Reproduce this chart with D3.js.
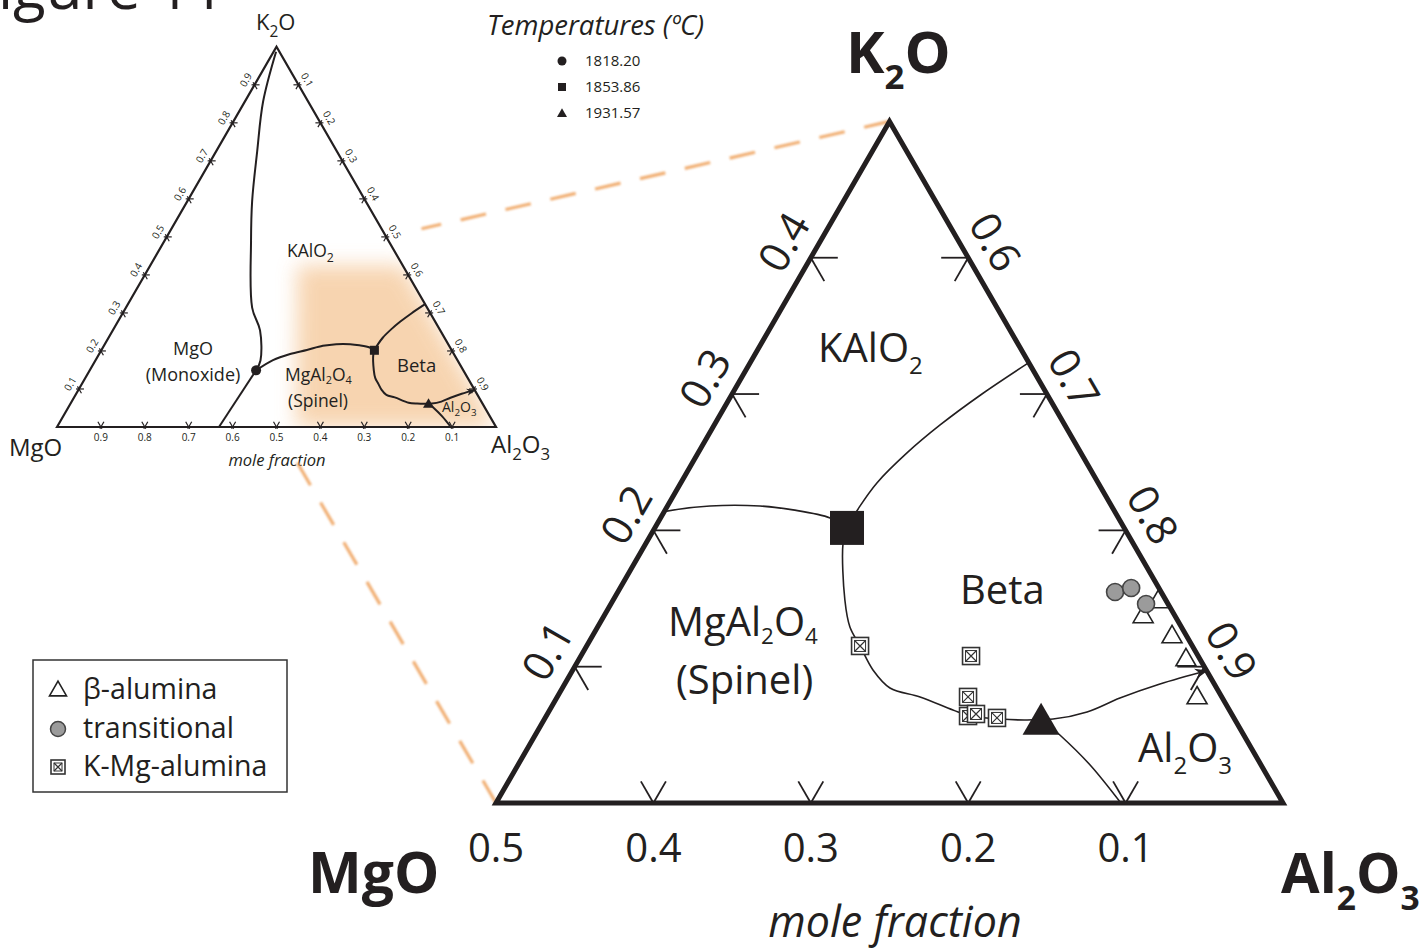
<!DOCTYPE html>
<html><head><meta charset="utf-8">
<script src="https://cdn.jsdelivr.net/npm/d3@7"></script>
<style>
body{margin:0;background:#fff;}
svg{display:block;}
text{font-family:"Open Sans","Noto Sans",sans-serif;fill:#231f20;}
</style>
</head><body>
<svg id="c" width="1421" height="949"></svg>
<script>
// ---------- DATA (compositions as [K2O, MgO, Al2O3] mole fractions) ----------
const bottomTickValues = [0.4, 0.3, 0.2, 0.1];          // MgO fraction, big triangle
const bottomTickLabels = ["0.5", "0.4", "0.3", "0.2", "0.1"];
const leftTickValues   = [0.1, 0.2, 0.3, 0.4];           // K2O fraction, big triangle
const rightTickValues  = [0.6, 0.7, 0.8, 0.9];           // Al2O3 fraction, big triangle
const smallTickValues  = [0.1,0.2,0.3,0.4,0.5,0.6,0.7,0.8,0.9];

// liquidus boundary curves
const bKAlO2_MgO = [[0.987,0.0075,0.0055],[0.856,0.1025,0.0415],[0.725,0.1815,0.0935],[0.594,0.2585,0.1475],
  [0.490,0.313,0.197],[0.314,0.3985,0.2875],[0.254,0.4105,0.3355],[0.175,0.449,0.376],[0.149,0.472,0.379]];
const bMgO_Spinel = [[0.149,0.472,0.379],[0,0.631,0.369]];
const bKAlO2_Spinel = [[0.149,0.472,0.379],[0.176,0.420,0.404],[0.192,0.373,0.435],[0.2026,0.3295,0.4679],
  [0.2135,0.2877,0.4988],[0.2179,0.255,0.527],[0.2179,0.2233,0.5588],[0.215,0.2038,0.5812],[0.2091,0.1832,0.6077],[0.2018,0.1761,0.6221]];
const bKAlO2_Beta = [[0.2018,0.1761,0.6221],[0.2172,0.1605,0.6223],[0.2348,0.1406,0.6246],[0.2568,0.1105,0.6327],
  [0.2773,0.0792,0.6435],[0.2993,0.0425,0.6582],[0.323,0,0.677]];
const bSpinel_Beta = [[0.2018,0.1761,0.6221],[0.1908,0.1841,0.6251],[0.1489,0.2039,0.6472],[0.1291,0.2106,0.6603],
  [0.1152,0.2111,0.6737],[0.0976,0.2117,0.6907],[0.0844,0.2075,0.7081],[0.0778,0.1917,0.7305],[0.0682,0.1756,0.7562],
  [0.0638,0.167,0.7692],[0.0616,0.149,0.7894],[0.0609,0.1321,0.807],[0.0616,0.1229,0.8155]];
const bBeta_Al2O3 = [[0.0616,0.1229,0.8155],[0.0616,0.1153,0.8231],[0.0668,0.0911,0.8421],[0.077,0.0651,0.8579],
  [0.0873,0.0345,0.8782],[0.097,0,0.903]];
const bSpinel_Al2O3 = [[0.0616,0.1229,0.8155],[0.0499,0.1168,0.8333],[0.0279,0.1086,0.8635],[0,0.103,0.897]];

// invariant points and their temperatures (°C)
const tempLabels = ["1818.20", "1853.86", "1931.57"];
const tempPoints = [[0.149,0.472,0.379],[0.2018,0.1761,0.6221],[0.0616,0.1229,0.8155]];

// measured compositions
const betaAlumina = [[0.1475,0.0056,0.8469],[0.1365,0.0206,0.8429],[0.1218,0.0096,0.8686],[0.1049,0.0092,0.8859],[0.077,0.0161,0.9069]];
const transitional = [[0.1548,0.0293,0.8159],[0.1577,0.0176,0.8247],[0.146,0.014,0.840]];
const kMgAlumina = [[0.1152,0.2111,0.6737],[0.1078,0.1443,0.7479],[0.0778,0.1612,0.761],[0.0638,0.1682,0.768],[0.0653,0.1624,0.7723],[0.0624,0.1505,0.7871]];

const legendLabels = ["β-alumina", "transitional", "K-Mg-alumina"];

// highlighted (enlarged) composition window and its shaded area in the inset
const zoomCorners = [[0.5,0,0.5],[0,0.5,0.5],[0,0,1]];
const shadeArea = [[0.425,0.24,0.335],[0.425,0,0.575],[0,0,1],[0,0.455,0.545]];

// ---------- SCALES ----------
const S3 = Math.sqrt(3);
const bx = d3.scaleLinear().domain([0.5, 1]).range([496, 1283]);
const by = d3.scaleLinear().domain([0, S3/4]).range([803, 121.4]);
const sx = d3.scaleLinear().domain([0, 1]).range([57, 496]);
const sy = d3.scaleLinear().domain([0, S3/2]).range([427, 46.8]);
const proj = (xs, ys) => c => [xs(c[2] + c[0]/2), ys(c[0]*S3/2)];
const PB = proj(bx, by), PS = proj(sx, sy);
const poly = (P, pts) => "M" + pts.map(c => P(c).join(",")).join("L") + "Z";

const svg = d3.select("#c");
const ink = "#231f20";
const defs = svg.append("defs");
defs.append("filter").attr("id","blur").attr("x","-40%").attr("y","-40%").attr("width","180%").attr("height","180%")
  .append("feGaussianBlur").attr("stdDeviation", 10);
defs.append("filter").attr("id","soft").append("feGaussianBlur").attr("stdDeviation", 0.8);
defs.append("clipPath").attr("id","bigclip").append("path").attr("d", poly(PB, zoomCorners));
defs.append("clipPath").attr("id","smallclip").append("path").attr("d", poly(PS, [[0,1,0],[1,0,0],[0,0,1]]));
function arrowMarker(id, sz){
  defs.append("marker").attr("id", id).attr("viewBox","0 0 10 10").attr("refX",9).attr("refY",5)
    .attr("markerWidth", sz).attr("markerHeight", sz).attr("markerUnits","userSpaceOnUse").attr("orient","auto")
    .append("path").attr("d","M0,1 L10,5 L0,9 L3,5 Z").attr("fill", ink);
}
arrowMarker("arrS", 9); arrowMarker("arrB", 13);

function rich(g, x, y, parts, size, opt = {}){
  const t = g.append("text").attr("x", x).attr("y", y).attr("font-size", size)
    .attr("text-anchor", opt.anchor || "start");
  if (opt.weight) t.attr("font-weight", opt.weight);
  if (opt.style) t.attr("font-style", opt.style);
  let sub = false;
  const sh = size * (opt.subShift || 0.3);
  parts.forEach(p => {
    const isSub = Array.isArray(p);
    const s = t.append("tspan").text(isSub ? p[0] : p);
    if (isSub) { s.attr("font-size", size * (opt.subScale || 0.62)); if (!sub) s.attr("dy", sh); sub = true; }
    else if (sub) { s.attr("dy", -sh); sub = false; }
  });
  return t;
}

// ---------- TITLE (cut off at top) ----------
svg.append("text").attr("x", -33).attr("y", 9).attr("font-size", 60).text("Figure 11");

// ---------- SMALL TRIANGLE ----------
const gs = svg.append("g");
gs.append("g").attr("clip-path","url(#smallclip)").append("path")
  .attr("d", poly(PS, shadeArea))
  .attr("fill", "#f6cda3").attr("opacity", 0.85).attr("filter", "url(#blur)");
// connector lines
const conn = svg.append("g").attr("stroke", "#eea05a").attr("stroke-width", 3.2)
  .attr("stroke-dasharray", "26 20").attr("opacity", 0.85).attr("fill","none").attr("filter","url(#soft)");
[[zoomCorners[0], 0.07], [zoomCorners[1], 0.09]].forEach(([c, t0]) => {
  const a = PS(c), b = PB(c);
  const s = [a[0] + (b[0]-a[0])*t0, a[1] + (b[1]-a[1])*t0];
  conn.append("line").attr("x1", b[0]).attr("y1", b[1]).attr("x2", s[0]).attr("y2", s[1]);
});

gs.append("path").attr("d", poly(PS, [[0,1,0],[1,0,0],[0,0,1]]))
  .attr("fill", "none").attr("stroke", ink).attr("stroke-width", 2.2).attr("stroke-linejoin","miter");

const DIR = { h:[1,0], m:[0.5,S3/2], a:[-0.5,S3/2], up_r:[0.5,-S3/2], up_l:[-0.5,-S3/2] };
function stub(g, p, d, lin, lout, w){
  g.append("line").attr("x1", p[0] - d[0]*lout).attr("y1", p[1] - d[1]*lout)
    .attr("x2", p[0] + d[0]*lin).attr("y2", p[1] + d[1]*lin).attr("stroke", ink).attr("stroke-width", w);
}
smallTickValues.forEach(v => {
  const pl = PS([v, 1-v, 0]);   // left edge: K2O
  stub(gs, pl, DIR.h, 5, 3, 1.2); stub(gs, pl, DIR.m, 5, 3, 1.2);
  gs.append("text").attr("font-size", 10).attr("text-anchor","middle")
    .attr("transform", `translate(${pl[0]-10*0.866},${pl[1]-10*0.5}) rotate(-60)`).attr("dy", "0.35em").text(v.toFixed(1));
  const pr = PS([1-v, 0, v]);   // right edge: Al2O3
  stub(gs, pr, [-1,0], 5, 3, 1.2); stub(gs, pr, DIR.a, 5, 3, 1.2);
  gs.append("text").attr("font-size", 10).attr("text-anchor","middle")
    .attr("transform", `translate(${pr[0]+10*0.866},${pr[1]-10*0.5}) rotate(60)`).attr("dy", "0.35em").text(v.toFixed(1));
  const pb = PS([0, v, 1-v]);   // base: MgO
  stub(gs, pb, DIR.up_r, 6, 2, 1.2); stub(gs, pb, DIR.up_l, 6, 2, 1.2);
  gs.append("text").attr("font-size", 10).attr("text-anchor","middle")
    .attr("x", pb[0]).attr("y", pb[1] + 14).text(v.toFixed(1));
});

const lineS = d3.line().x(d => PS(d)[0]).y(d => PS(d)[1]).curve(d3.curveCatmullRom.alpha(0.5));
[bKAlO2_MgO, bMgO_Spinel, bKAlO2_Spinel, bKAlO2_Beta, bSpinel_Beta, bSpinel_Al2O3].forEach(b =>
  gs.append("path").attr("d", lineS(b)).attr("fill","none").attr("stroke", ink).attr("stroke-width", 2));
gs.append("path").attr("d", lineS(bBeta_Al2O3)).attr("fill","none").attr("stroke", ink)
  .attr("stroke-width", 2).attr("marker-end","url(#arrS)");

function tri(g, p, w, fill, stroke, sw){
  const h = w*S3/2;
  g.append("path").attr("d", `M${p[0]},${p[1]-2*h/3}L${p[0]+w/2},${p[1]+h/3}L${p[0]-w/2},${p[1]+h/3}Z`)
    .attr("fill", fill).attr("stroke", stroke || "none").attr("stroke-width", sw || 0);
}
function sq(g, p, s, fill){
  g.append("rect").attr("x", p[0]-s/2).attr("y", p[1]-s/2).attr("width", s).attr("height", s).attr("fill", fill);
}
{
  const p0 = PS(tempPoints[0]); gs.append("circle").attr("cx", p0[0]).attr("cy", p0[1]).attr("r", 5).attr("fill", ink);
  sq(gs, PS(tempPoints[1]), 9, ink);
  const p2 = PS(tempPoints[2]); tri(gs, [p2[0], p2[1]+1], 11, ink);
}

// small labels
rich(gs, 256, 30, ["K", ["2"], "O"], 22, {subScale:0.7});
rich(gs, 9, 456, ["MgO"], 24);
rich(gs, 491, 453, ["Al", ["2"], "O", ["3"]], 24, {subScale:0.7});
gs.append("text").attr("x", 277).attr("y", 466).attr("font-size", 16.5).attr("font-style","italic")
  .attr("text-anchor","middle").text("mole fraction");
rich(gs, 287, 257, ["KAlO", ["2"]], 17.5, {subScale:0.7});
gs.append("text").attr("x", 193).attr("y", 355).attr("font-size", 18).attr("text-anchor","middle").text("MgO");
gs.append("text").attr("x", 193).attr("y", 381).attr("font-size", 18).attr("text-anchor","middle").text("(Monoxide)");
rich(gs, 285, 381, ["MgAl", ["2"], "O", ["4"]], 17.5, {subScale:0.62, subShift:0.18});
gs.append("text").attr("x", 288).attr("y", 407).attr("font-size", 17.5).text("(Spinel)");
gs.append("text").attr("x", 397).attr("y", 372).attr("font-size", 18.5).text("Beta");
rich(gs, 442, 412, ["Al", ["2"], "O", ["3"]], 14, {subScale:0.7});

// temperature legend
const gt = svg.append("g");
gt.append("text").attr("x", 487).attr("y", 35).attr("font-size", 27.5).attr("font-style","italic").text("Temperatures (ºC)");
tempLabels.forEach((t, i) => {
  const y = 61 + i*26;
  if (i === 0) gt.append("circle").attr("cx", 562).attr("cy", y).attr("r", 4.5).attr("fill", ink);
  if (i === 1) sq(gt, [562, y], 8, ink);
  if (i === 2) tri(gt, [562, y+1], 10, ink);
  gt.append("text").attr("x", 585).attr("y", y + 5).attr("font-size", 15).text(t);
});

// ---------- BIG TRIANGLE ----------
const gb = svg.append("g");
const lineB = d3.line().x(d => PB(d)[0]).y(d => PB(d)[1]).curve(d3.curveCatmullRom.alpha(0.5));
const gc = gb.append("g").attr("clip-path", "url(#bigclip)");
[bKAlO2_Spinel, bKAlO2_Beta, bSpinel_Beta, bSpinel_Al2O3].forEach(b =>
  gc.append("path").attr("d", lineB(b)).attr("fill","none").attr("stroke", ink).attr("stroke-width", 1.6));
gc.append("path").attr("d", lineB(bBeta_Al2O3)).attr("fill","none").attr("stroke", ink)
  .attr("stroke-width", 1.6).attr("marker-end","url(#arrB)");

// ticks
const TL = 27;
leftTickValues.forEach(v => {
  const p = PB([v, 0.5 - v, 0.5]);
  stub(gb, p, DIR.h, TL, 0, 1.8); stub(gb, p, DIR.m, TL, 0, 1.8);
  gb.append("text").attr("font-size", 42).attr("text-anchor","middle")
    .attr("transform", `translate(${p[0]-31*0.866},${p[1]-31*0.5}) rotate(-60)`).attr("dy","0.35em").text(v.toFixed(1));
});
rightTickValues.forEach(v => {
  const p = PB([1 - v, 0, v]);
  stub(gb, p, [-1,0], TL, 0, 1.8); stub(gb, p, DIR.a, TL, 0, 1.8);
  gb.append("text").attr("font-size", 42).attr("text-anchor","middle")
    .attr("transform", `translate(${p[0]+31*0.866},${p[1]-31*0.5}) rotate(60)`).attr("dy","0.35em").text(v.toFixed(1));
});
bottomTickValues.forEach(v => {
  const p = PB([0, v, 1 - v]);
  stub(gb, p, DIR.up_r, 25, 0, 1.8); stub(gb, p, DIR.up_l, 25, 0, 1.8);
});
bottomTickLabels.forEach(l => {
  const p = PB([0, +l, 1 - +l]);
  gb.append("text").attr("x", p[0]).attr("y", 862).attr("font-size", 40).attr("text-anchor","middle").text(l);
});

gb.append("path").attr("d", poly(PB, zoomCorners))
  .attr("fill", "none").attr("stroke", ink).attr("stroke-width", 5).attr("stroke-linejoin","miter");

// data markers
function boxX(g, p, s){
  const h = s/2, i = s/2 - 3;
  g.append("rect").attr("x", p[0]-h).attr("y", p[1]-h).attr("width", s).attr("height", s)
    .attr("fill","#fff").attr("stroke","#333").attr("stroke-width",1.6);
  g.append("rect").attr("x", p[0]-i).attr("y", p[1]-i).attr("width", 2*i).attr("height", 2*i)
    .attr("fill","none").attr("stroke","#333").attr("stroke-width",1);
  g.append("path").attr("d", `M${p[0]-i},${p[1]-i}L${p[0]+i},${p[1]+i}M${p[0]+i},${p[1]-i}L${p[0]-i},${p[1]+i}`)
    .attr("stroke","#333").attr("stroke-width",1.2);
}
kMgAlumina.forEach(c => boxX(gb, PB(c), 17));
betaAlumina.forEach(c => tri(gb, PB(c), 20, "#fff", "#222", 1.6));
transitional.forEach(c => { const p = PB(c);
  gb.append("circle").attr("cx", p[0]).attr("cy", p[1]).attr("r", 8.5).attr("fill", "#9b9b9b").attr("stroke","#444").attr("stroke-width",1.6); });

// invariant points, big
sq(gb, PB(tempPoints[1]), 34, ink);
{ const p = PB(tempPoints[2]); tri(gb, [p[0], p[1]+5], 37, ink); }

// big labels
rich(gb, 846, 73, ["K", ["2"], "O"], 58, {weight:"bold", subScale:0.6, subShift:0.27});
rich(gb, 308, 893, ["MgO"], 57, {weight:"bold"});
rich(gb, 1281, 893, ["Al", ["2"], "O", ["3"]], 56, {weight:"bold", subScale:0.6, subShift:0.3});
gb.append("text").attr("x", 895).attr("y", 937).attr("font-size", 43).attr("font-style","italic")
  .attr("text-anchor","middle").text("mole fraction");
rich(gb, 818, 362, ["KAlO", ["2"]], 40, {subScale:0.6});
gb.append("text").attr("x", 960).attr("y", 604).attr("font-size", 40).text("Beta");
rich(gb, 668, 636, ["MgAl", ["2"], "O", ["4"]], 40, {subScale:0.56, subShift:0.2});
gb.append("text").attr("x", 676).attr("y", 694).attr("font-size", 40).text("(Spinel)");
rich(gb, 1138, 762, ["Al", ["2"], "O", ["3"]], 40, {subScale:0.6});

// legend
const gl = svg.append("g");
gl.append("rect").attr("x", 33).attr("y", 660).attr("width", 254).attr("height", 132)
  .attr("fill","none").attr("stroke","#333").attr("stroke-width",1.5);
tri(gl, [58, 691], 17, "#fff", "#222", 1.6);
gl.append("circle").attr("cx", 58).attr("cy", 729).attr("r", 7.5).attr("fill","#9b9b9b").attr("stroke","#444").attr("stroke-width",1.5);
boxX(gl, [58, 767], 14);
legendLabels.forEach((l, i) => gl.append("text").attr("x", 83).attr("y", 699 + i*38.5).attr("font-size", 28.5).text(l));
</script>
</body></html>
